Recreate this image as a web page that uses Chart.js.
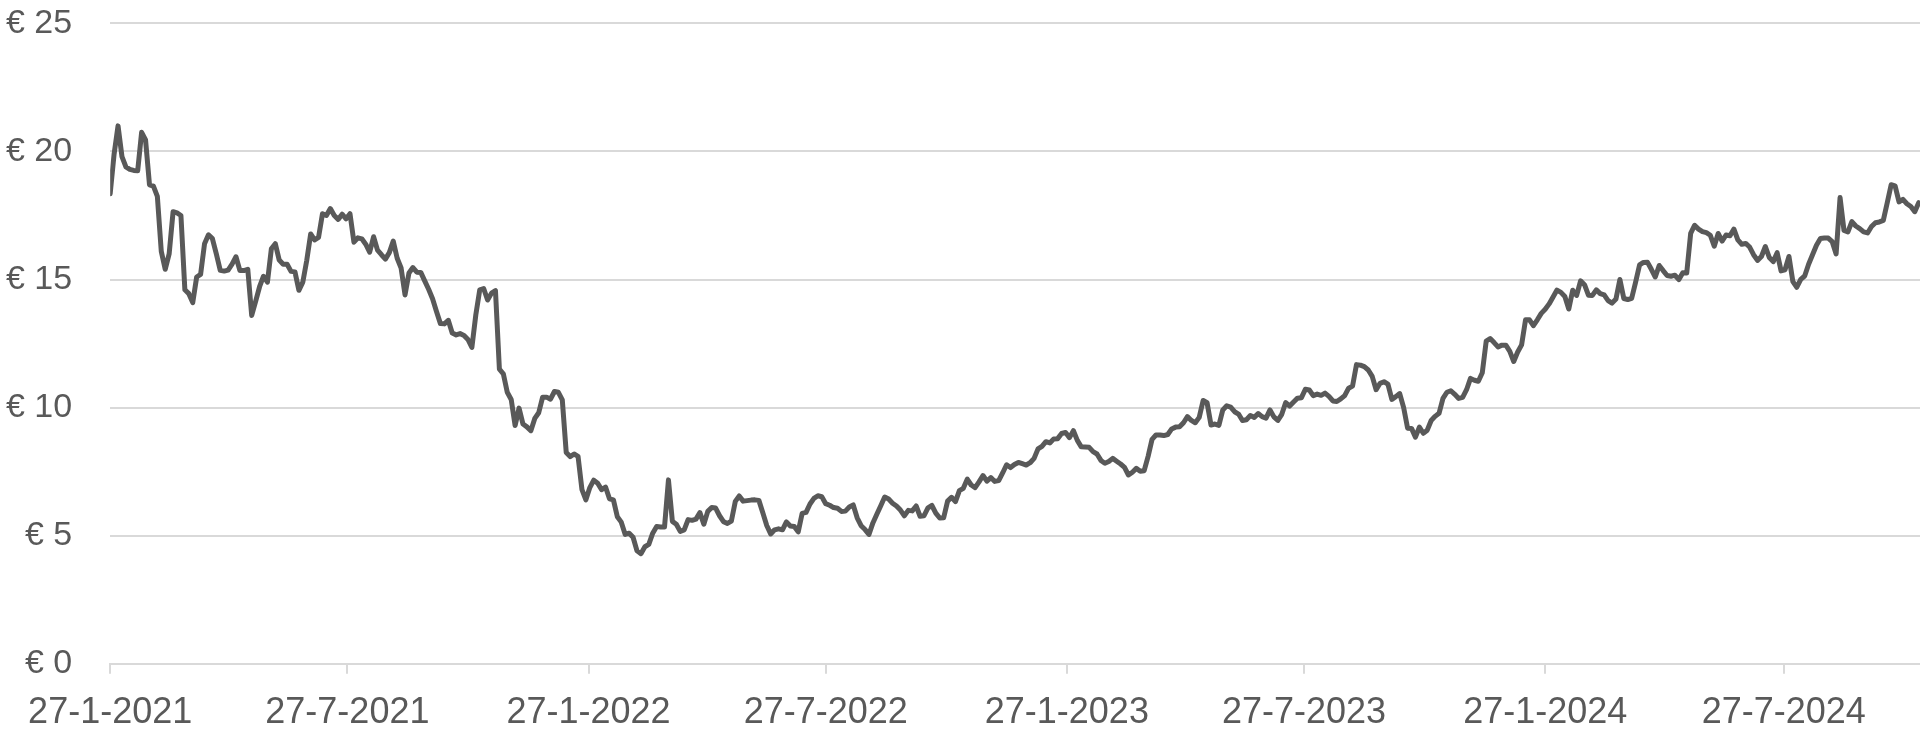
<!DOCTYPE html>
<html>
<head>
<meta charset="utf-8">
<script src="https://cdn.jsdelivr.net/npm/chart.js@4.4.1/dist/chart.umd.min.js"></script>
<style>
  html, body { margin: 0; padding: 0; background: #fff; overflow: hidden; }
  #chart { display: block; }
</style>
</head>
<body>
<canvas id="chart" width="1920" height="753"></canvas>
<script>
    // Share price, one reading every 3 days starting 27-1-2021
    const startDate = '2021-01-27';
    const endDate = '2024-11-08';
    const stepDays = 3;
    const prices = [
      18.35, 19.9, 21.0, 19.8, 19.4, 19.3, 19.26, 19.25, 20.75, 20.45,
      18.7, 18.65, 18.25, 16.1, 15.4, 16.0, 17.65, 17.6, 17.5, 14.6,
      14.45, 14.1, 15.1, 15.2, 16.4, 16.75, 16.6, 16.0, 15.36, 15.33,
      15.37, 15.6, 15.89, 15.35, 15.35, 15.4, 13.6, 14.15, 14.72, 15.13,
      14.9, 16.2, 16.4, 15.76, 15.6, 15.6, 15.32, 15.3, 14.58, 14.9,
      15.75, 16.78, 16.55, 16.65, 17.57, 17.5, 17.77, 17.5, 17.35, 17.55,
      17.37, 17.57, 16.46, 16.63, 16.59, 16.38, 16.07, 16.67, 16.15, 15.97,
      15.8, 16.05, 16.5, 15.83, 15.45, 14.4, 15.26, 15.47, 15.29, 15.28,
      14.95, 14.62, 14.25, 13.75, 13.28, 13.27, 13.41, 12.91, 12.84, 12.89,
      12.82, 12.66, 12.35, 13.62, 14.6, 14.65, 14.2, 14.47, 14.57, 11.5,
      11.32, 10.6, 10.32, 9.3, 9.98, 9.36, 9.25, 9.1, 9.58, 9.8,
      10.41, 10.41, 10.33, 10.63, 10.6, 10.3, 8.25, 8.09, 8.19, 8.1,
      6.8, 6.4, 6.88, 7.17, 7.05, 6.8, 6.9, 6.44, 6.4, 5.74,
      5.53, 5.05, 5.1, 4.94, 4.41, 4.3, 4.57, 4.66, 5.1, 5.36,
      5.34, 5.34, 7.18, 5.56, 5.45, 5.17, 5.23, 5.63, 5.6, 5.65,
      5.9, 5.45, 5.95, 6.1, 6.08, 5.78, 5.55, 5.48, 5.57, 6.34,
      6.55, 6.35, 6.37, 6.39, 6.4, 6.38, 5.9, 5.4, 5.07, 5.23,
      5.27, 5.23, 5.54, 5.38, 5.36, 5.15, 5.87, 5.91, 6.24, 6.46,
      6.56, 6.52, 6.25, 6.19, 6.1, 6.07, 5.95, 5.96, 6.12, 6.2,
      5.7, 5.39, 5.24, 5.05, 5.5, 5.84, 6.17, 6.51, 6.43, 6.27,
      6.16, 6.0, 5.78, 5.99, 5.97, 6.16, 5.76, 5.78, 6.09, 6.18,
      5.88, 5.69, 5.7, 6.35, 6.5, 6.33, 6.76, 6.85, 7.21, 6.98,
      6.88, 7.1, 7.35, 7.13, 7.27, 7.12, 7.15, 7.45, 7.77, 7.66,
      7.78, 7.86, 7.81, 7.76, 7.85, 8.02, 8.39, 8.49, 8.67, 8.62,
      8.78, 8.79, 8.99, 9.03, 8.83, 9.1, 8.72, 8.47, 8.46, 8.45,
      8.28, 8.19, 7.94, 7.83, 7.9, 8.02, 7.91, 7.8, 7.67, 7.37,
      7.48, 7.63, 7.52, 7.54, 8.1, 8.76, 8.93, 8.93, 8.91, 8.95,
      9.17, 9.24, 9.25, 9.41, 9.65, 9.5, 9.41, 9.62, 10.28, 10.19,
      9.32, 9.36, 9.31, 9.91, 10.07, 10.02, 9.84, 9.75, 9.5, 9.53,
      9.69, 9.62, 9.77, 9.65, 9.59, 9.91, 9.64, 9.5, 9.74, 10.2,
      10.06, 10.22, 10.37, 10.39, 10.72, 10.69, 10.47, 10.53, 10.48, 10.57,
      10.44, 10.26, 10.24, 10.34, 10.47, 10.76, 10.84, 11.68, 11.66, 11.6,
      11.47, 11.22, 10.7, 10.95, 11.01, 10.92, 10.32, 10.43, 10.55, 10.0,
      9.2, 9.19, 8.85, 9.24, 9.0, 9.12, 9.5, 9.66, 9.78, 10.36,
      10.6, 10.66, 10.52, 10.36, 10.4, 10.7, 11.14, 11.07, 11.03, 11.36,
      12.6, 12.7, 12.54, 12.37, 12.44, 12.44, 12.2, 11.8, 12.17, 12.45,
      13.43, 13.43, 13.2, 13.43, 13.68, 13.84, 14.05, 14.32, 14.59, 14.5,
      14.34, 13.85, 14.58, 14.38, 14.95, 14.8, 14.39, 14.38, 14.6, 14.45,
      14.4, 14.18, 14.08, 14.24, 15.0, 14.26, 14.22, 14.27, 14.9, 15.57,
      15.67, 15.68, 15.4, 15.1, 15.55, 15.35, 15.16, 15.13, 15.17, 15.0,
      15.27, 15.26, 16.8, 17.12, 16.97, 16.87, 16.83, 16.73, 16.3, 16.8,
      16.5, 16.74, 16.71, 16.97, 16.55, 16.38, 16.41, 16.27, 15.97, 15.75,
      15.9, 16.29, 15.86, 15.7, 16.05, 15.34, 15.38, 15.9, 14.92, 14.7,
      15.01, 15.14, 15.6, 15.97, 16.34, 16.6, 16.62, 16.62, 16.48, 16.0,
      18.2, 16.92, 16.86, 17.26, 17.09, 16.99, 16.86, 16.82, 17.07, 17.22,
      17.25, 17.31, 18.0, 18.7, 18.66, 18.03, 18.13, 17.96, 17.85, 17.65,
      18.0
    ];
    const tickDates = ['2021-01-27', '2021-07-27', '2022-01-27', '2022-07-27', '2023-01-27', '2023-07-27', '2024-01-27', '2024-07-27'];
    const tickLabels = ['27-1-2021', '27-7-2021', '27-1-2022', '27-7-2022', '27-1-2023', '27-7-2023', '27-1-2024', '27-7-2024'];
    const yTicks = [0, 5, 10, 15, 20, 25];

    const textColor = '#595959';
    const gridColor = '#d9d9d9';
    const fontFamily = "'Liberation Sans', Arial, sans-serif";

    // days since startDate
    function dayNumber(iso) {
      const [y, m, d] = iso.split('-').map(Number);
      const [y0, m0, d0] = startDate.split('-').map(Number);
      return Math.round((Date.UTC(y, m - 1, d) - Date.UTC(y0, m0 - 1, d0)) / 86400000);
    }

    const points = prices.map((p, i) => ({ x: i * stepDays, y: p }));

    const ctx = document.getElementById('chart').getContext('2d');
    new Chart(ctx, {
      type: 'line',
      data: {
        datasets: [{
          data: points,
          borderColor: '#595959',
          borderWidth: 5,
          borderJoinStyle: 'round',
          borderCapStyle: 'round',
          pointRadius: 0,
          tension: 0,
          fill: false
        }]
      },
      options: {
        responsive: false,
        animation: false,
        devicePixelRatio: 1,
        layout: {
          padding: { top: 23, left: 3, right: 0, bottom: 0 }
        },
        plugins: {
          legend: { display: false },
          tooltip: { enabled: false }
        },
        scales: {
          x: {
            type: 'linear',
            min: 0,
            max: dayNumber(endDate),
            afterBuildTicks: axis => {
              axis.ticks = tickDates.map(d => ({ value: dayNumber(d) }));
            },
            ticks: {
              autoSkip: false,
              maxRotation: 0,
              padding: 18,
              color: textColor,
              font: { family: fontFamily, size: 36 },
              callback: (value, index) => tickLabels[index]
            },
            grid: {
              drawOnChartArea: false,
              drawTicks: true,
              tickLength: 10,
              tickColor: gridColor,
              tickWidth: 2,
              color: gridColor,
              lineWidth: 2
            },
            border: { display: true, color: gridColor, width: 2 }
          },
          y: {
            min: 0,
            max: 25,
            afterBuildTicks: axis => {
              axis.ticks = yTicks.map(v => ({ value: v }));
            },
            ticks: {
              padding: 3,
              color: textColor,
              font: { family: fontFamily, size: 34 },
              callback: value => '€ ' + value
            },
            grid: {
              color: gridColor,
              lineWidth: 2,
              drawTicks: true,
              tickLength: 35,
              tickColor: 'rgba(0,0,0,0)'
            },
            border: { display: false }
          }
        }
      }
    });
</script>
</body>
</html>
